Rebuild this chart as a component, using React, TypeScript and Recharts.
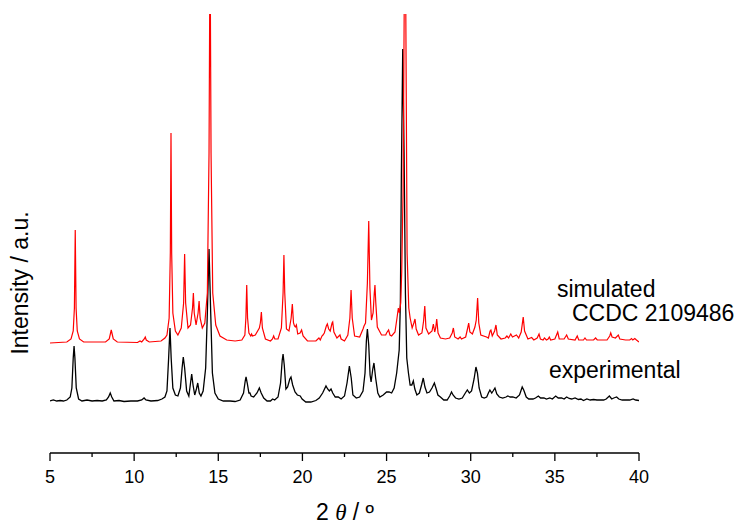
import React from 'react';
import { LineChart, Line, XAxis, YAxis } from 'recharts';

// 2θ (deg), intensity (a.u., offset pattern)
const simulated: [number, number][] = [
  [5.0, 110], [6.0, 111], [6.25, 114], [6.38, 122], [6.45, 145], [6.5, 223], [6.55, 145], [6.62, 122], [6.75, 114], [7.0, 111],
  [8.3, 111], [8.52, 114], [8.6, 120], [8.64, 123], [8.68, 120], [8.76, 114], [9.0, 111],
  [10.2, 110.5], [10.35, 112], [10.45, 111], [10.6, 114], [10.66, 116], [10.72, 113], [10.9, 111],
  [11.6, 112], [11.83, 115], [11.95, 118], [12.08, 135], [12.15, 200], [12.19, 320], [12.23, 200], [12.3, 140], [12.45, 122],
  [12.6, 118], [12.8, 125], [12.94, 150], [13.0, 199], [13.06, 150], [13.2, 125], [13.35, 128], [13.47, 145], [13.52, 160],
  [13.57, 140], [13.68, 128], [13.8, 140], [13.86, 152], [13.92, 135], [14.05, 125], [14.2, 130], [14.35, 160], [14.45, 300],
  [14.51, 520], [14.57, 300], [14.67, 160], [14.85, 128], [15.1, 117], [15.5, 113], [16.0, 112],
  [16.4, 113], [16.58, 118], [16.64, 135], [16.69, 168], [16.74, 135], [16.82, 120], [16.93, 117], [16.98, 119], [17.03, 117],
  [17.2, 118], [17.44, 125], [17.5, 130], [17.56, 141], [17.62, 125], [17.8, 114], [18.1, 112], [18.22, 114], [18.29, 117],
  [18.36, 114], [18.55, 114], [18.75, 125], [18.85, 160], [18.9, 198], [18.95, 160], [19.05, 124], [19.2, 122], [19.33, 135],
  [19.4, 149], [19.47, 130], [19.53, 127], [19.58, 126], [19.64, 128], [19.72, 119], [19.86, 120], [19.95, 123], [20.04, 117],
  [20.3, 112], [20.8, 112], [20.98, 115], [21.06, 113], [21.16, 117], [21.22, 118], [21.3, 120], [21.42, 127], [21.48, 129],
  [21.56, 124], [21.65, 122], [21.76, 130], [21.8, 131], [21.87, 121], [22.05, 115], [22.17, 117], [22.23, 118], [22.3, 114],
  [22.5, 112], [22.7, 118], [22.82, 135], [22.89, 163], [22.96, 135], [23.1, 117], [23.4, 116], [23.6, 124], [23.66, 127],
  [23.75, 130], [23.86, 170], [23.94, 232], [24.01, 165], [24.1, 133], [24.2, 140], [24.27, 160], [24.31, 168], [24.36, 150],
  [24.45, 126], [24.7, 118], [24.95, 118], [25.0, 120], [25.12, 123], [25.2, 118], [25.3, 117], [25.5, 121], [25.62, 135],
  [25.7, 145], [25.76, 140], [25.84, 150], [25.9, 181], [25.98, 260], [26.05, 450], [26.09, 520], [26.14, 450], [26.22, 200],
  [26.32, 145], [26.4, 135], [26.52, 125], [26.62, 130], [26.69, 134], [26.76, 124], [26.9, 118], [27.1, 120], [27.2, 132],
  [27.27, 147], [27.34, 125], [27.5, 119], [27.7, 122], [27.78, 129], [27.86, 121], [27.92, 125], [27.98, 134], [28.06, 120],
  [28.2, 115], [28.5, 114], [28.75, 115], [28.9, 120], [28.97, 125], [29.05, 116], [29.25, 114], [29.37, 116], [29.45, 114],
  [29.7, 116], [29.82, 125], [29.88, 130], [29.95, 121], [30.1, 119], [30.25, 126], [30.33, 133], [30.41, 155], [30.48, 130],
  [30.6, 118], [30.94, 116], [31.05, 115], [31.15, 122], [31.2, 123], [31.28, 117], [31.42, 122], [31.5, 128], [31.58, 118],
  [31.8, 114], [32.05, 115], [32.15, 117], [32.25, 115], [32.38, 119], [32.48, 116], [32.6, 117], [32.72, 118], [32.85, 115],
  [33.0, 121], [33.12, 136], [33.2, 122], [33.4, 114], [33.62, 115.5], [33.75, 113], [33.95, 115], [34.06, 119], [34.14, 114],
  [34.3, 113], [34.38, 115], [34.5, 113], [34.6, 114], [34.67, 116], [34.75, 113], [35.0, 114], [35.17, 121], [35.26, 114],
  [35.55, 114], [35.7, 118], [35.8, 114], [36.2, 113], [36.33, 117], [36.42, 113], [36.7, 113], [36.79, 115], [36.88, 113],
  [37.3, 113], [37.42, 115], [37.52, 113], [38.1, 113], [38.26, 117], [38.32, 120], [38.4, 116], [38.6, 115], [38.77, 118],
  [38.86, 114], [39.2, 113], [39.45, 113], [39.56, 114.5], [39.63, 113], [39.75, 114.5], [39.85, 113], [40.0, 111],
];

const experimental: [number, number][] = [
  [5.0, 52], [5.2, 53], [5.4, 52], [5.6, 52.5], [5.8, 52], [6.0, 53], [6.2, 56], [6.3, 65], [6.38, 95], [6.43, 107], [6.48, 95],
  [6.56, 65], [6.7, 54], [6.9, 52], [7.2, 53], [7.5, 52], [7.8, 52.5], [8.1, 52], [8.35, 53], [8.48, 56], [8.58, 60], [8.67, 56],
  [8.8, 52], [9.1, 52.5], [9.4, 51.5], [9.8, 52], [10.2, 52], [10.45, 53], [10.59, 55], [10.7, 53], [11.0, 52], [11.4, 52.5],
  [11.65, 54], [11.83, 56], [11.95, 62], [12.05, 95], [12.13, 125], [12.2, 95], [12.3, 65], [12.45, 58], [12.6, 57], [12.75, 65],
  [12.85, 85], [12.92, 96], [13.0, 85], [13.12, 62], [13.25, 57], [13.35, 70], [13.42, 79], [13.5, 68], [13.6, 58], [13.7, 64],
  [13.78, 70], [13.87, 60], [13.97, 57], [14.1, 62], [14.25, 85], [14.35, 140], [14.45, 204], [14.55, 140], [14.65, 80],
  [14.8, 60], [15.0, 54], [15.3, 52], [15.7, 52], [16.0, 51.5], [16.3, 53], [16.5, 60], [16.6, 72], [16.65, 76], [16.72, 70],
  [16.82, 60], [16.88, 60], [16.95, 57], [17.1, 56], [17.3, 60], [17.44, 65], [17.55, 60], [17.7, 55], [17.9, 52], [18.1, 52],
  [18.23, 54], [18.35, 53], [18.55, 56], [18.7, 70], [18.8, 93], [18.85, 99], [18.92, 88], [19.02, 64], [19.12, 66], [19.25, 74],
  [19.32, 76], [19.42, 68], [19.56, 61], [19.7, 58], [19.87, 57], [19.98, 54], [20.2, 51], [20.5, 51], [20.8, 52.5], [21.0, 55],
  [21.2, 60], [21.4, 67], [21.5, 64], [21.6, 62], [21.7, 64], [21.8, 60], [21.95, 56], [22.13, 56], [22.3, 54], [22.5, 57],
  [22.65, 70], [22.79, 87], [22.9, 75], [23.0, 58], [23.2, 55], [23.4, 56], [23.6, 62], [23.72, 80], [23.8, 112], [23.86, 124],
  [23.94, 108], [24.02, 78], [24.08, 71], [24.18, 84], [24.25, 90], [24.35, 75], [24.48, 60], [24.6, 56], [24.8, 58], [25.0, 61],
  [25.15, 61], [25.3, 60], [25.45, 65], [25.6, 80], [25.75, 103], [25.82, 150], [25.88, 280], [25.96, 404], [26.04, 300],
  [26.12, 160], [26.2, 95], [26.3, 80], [26.4, 68], [26.5, 68], [26.59, 72], [26.68, 64], [26.8, 58], [26.95, 60], [27.08, 68],
  [27.18, 75], [27.28, 66], [27.4, 60], [27.55, 61], [27.7, 65], [27.84, 70], [27.95, 64], [28.05, 58], [28.2, 56], [28.4, 53],
  [28.6, 53], [28.75, 57], [28.86, 61], [28.95, 58], [29.1, 55], [29.3, 54], [29.5, 55], [29.68, 60], [29.8, 63], [29.92, 60],
  [30.05, 62], [30.2, 74], [30.31, 86], [30.4, 80], [30.5, 65], [30.65, 56], [30.8, 55], [30.95, 56], [31.05, 60], [31.14, 63],
  [31.25, 60], [31.33, 62], [31.44, 65], [31.55, 59], [31.7, 56], [31.9, 55], [32.1, 56], [32.2, 57], [32.35, 56], [32.5, 56],
  [32.7, 55], [32.9, 58], [33.06, 66], [33.15, 63], [33.3, 56], [33.45, 54], [33.7, 54], [33.85, 55], [34.02, 57], [34.15, 55],
  [34.35, 55], [34.5, 54], [34.7, 55], [34.85, 54], [35.05, 57], [35.2, 55], [35.4, 55], [35.55, 54], [35.7, 56], [35.85, 54.5],
  [36.0, 54], [36.2, 55], [36.4, 53.5], [36.55, 54], [36.7, 52.5], [36.9, 54], [37.1, 53], [37.3, 53.5], [37.5, 53], [37.7, 53],
  [37.9, 53], [38.05, 54], [38.24, 57], [38.38, 54], [38.5, 55], [38.67, 56], [38.8, 54], [39.0, 53], [39.2, 53], [39.45, 53],
  [39.65, 54], [39.8, 53], [40.0, 52.5],
];

const xTicks = [5, 7.5, 10, 12.5, 15, 17.5, 20, 22.5, 25, 27.5, 30, 32.5, 35, 37.5, 40];
const xDomain: [number, number] = [5, 40];
const yDomain: [number, number] = [0, 439];

const simData = simulated.map(([x, y]) => ({ x, y }));
const expData = experimental.map(([x, y]) => ({ x, y }));

const FONT = '"Liberation Sans", Arial, Helvetica, sans-serif';

function Tick(props: any) {
  const { x, y, payload } = props;
  const major = payload.value % 5 === 0;
  return (
    <g>
      <line x1={x} x2={x} y1={y} y2={y + (major ? 8 : 4)} stroke="#000" strokeWidth={1.3} />
      {major && (
        <text x={x} y={y + 30} textAnchor="middle" fontSize={18} fontFamily={FONT} fill="#000">
          {payload.value}
        </text>
      )}
    </g>
  );
}

export default function App() {
  return (
    <div style={{ position: 'absolute', left: 0, top: 0, width: 737, height: 525, background: '#fff' }}>
      <LineChart width={737} height={525} margin={{ top: 14, right: 98, bottom: 12, left: 50 }}>
        <XAxis
          dataKey="x"
          type="number"
          domain={xDomain}
          ticks={xTicks}
          interval={0}
          allowDataOverflow
          tickLine={false}
          tickSize={0}
          tickMargin={0}
          height={60}
          axisLine={{ stroke: '#000', strokeWidth: 1.3 }}
          tick={<Tick />}
        />
        <YAxis type="number" domain={yDomain} allowDataOverflow hide />
        <Line data={expData} dataKey="y" type="linear" stroke="#000" strokeWidth={1.3} dot={false} isAnimationActive={false} />
        <Line data={simData} dataKey="y" type="linear" stroke="#ff0000" strokeWidth={1.2} dot={false} isAnimationActive={false} />
        <text x={557} y={297} fontSize={23} fontFamily={FONT} fill="#000">simulated</text>
        <text x={572} y={321} fontSize={23} fontFamily={FONT} fill="#000">CCDC 2109486</text>
        <text x={549} y={378} fontSize={23} fontFamily={FONT} fill="#000">experimental</text>
        <text x={28} y={283} transform="rotate(-90, 28, 283)" textAnchor="middle" fontSize={23} fontFamily={FONT} fill="#000">
          Intensity / a.u.
        </text>
        <text x={345} y={520} textAnchor="middle" fontSize={23} fontFamily={FONT} fill="#000">
          2 <tspan fontFamily='"Liberation Serif", "Times New Roman", serif' fontStyle="italic">θ</tspan> / º
        </text>
      </LineChart>
    </div>
  );
}
